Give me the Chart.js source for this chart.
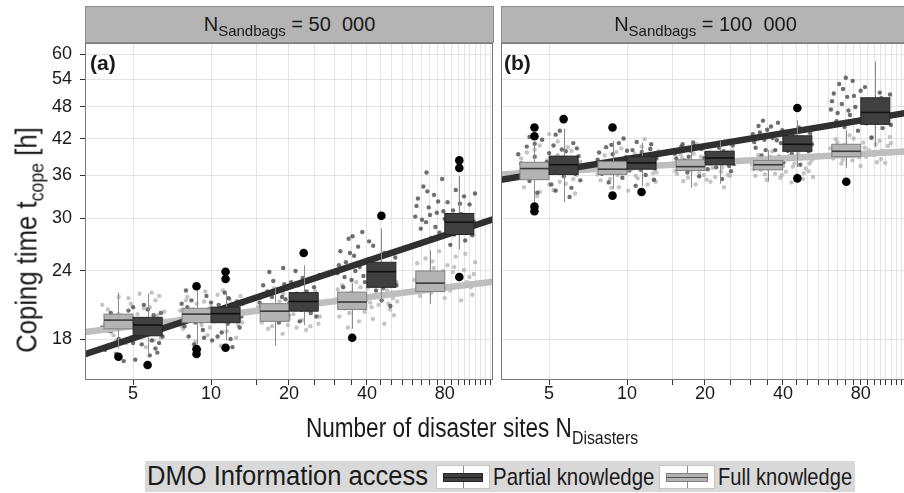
<!DOCTYPE html>
<html lang="en">
<head>
<meta charset="UTF-8">
<title>Coping time vs number of disaster sites</title>
<script src="https://cdn.jsdelivr.net/npm/chart.js"></script>
<style>
    body { margin: 0; width: 904px; height: 493px; overflow: hidden; background: #fff; position: relative;
           font-family: 'Liberation Sans', Arial, sans-serif; color: #1a1a1a; }
    .wrap { position: absolute; top: 0; }
    .strip { position: absolute; top: 6px; height: 37px; box-sizing: border-box; background: #b4b4b4;
             border: 1px solid #8c8c8c; text-align: center; font-size: 20px; line-height: 35px; white-space: nowrap; }
    .sub { font-size: 15px; position: relative; top: 5px; }
    .tag { position: absolute; top: 51px; font-size: 21px; font-weight: bold; line-height: 24px; }
    .title { position: absolute; white-space: nowrap; line-height: 32px; }
    .sub2 { position: relative; top: 7px; }
    .legend { position: absolute; left: 145px; top: 461px; width: 710px; height: 31px; background: #d9d9d9; }
    .ltxt { position: absolute; top: 0; line-height: 31px; white-space: nowrap; transform-origin: 0 50%; }
    .key { position: absolute; top: 4px; height: 24px; box-sizing: border-box; background: #fff; border: 1px solid #c4c4c4; }
    .kbar { position: absolute; left: 6px; right: 6px; top: 7px; height: 9px; box-sizing: border-box; }
    .kmed { position: absolute; left: 6px; right: 6px; top: 11px; height: 1px; }
    .kwh { position: absolute; top: 0; bottom: 0; left: 50%; width: 1px; background: #8c8c8c; }
</style>
</head>
<body>
    <div class="wrap" style="left:0;width:500px;height:420px"><canvas id="panelA" width="500" height="420"></canvas></div>
    <div class="wrap" style="left:495px;width:430px;height:420px"><canvas id="panelB" width="430" height="420"></canvas></div>

    <div class="strip" style="left:85px;width:409px">N<span class="sub">Sandbags</span> = 50&nbsp;&nbsp;000</div>
    <div class="strip" style="left:501px;width:409px">N<span class="sub">Sandbags</span> = 100&nbsp;&nbsp;000</div>
    <div class="tag" style="left:90px">(a)</div>
    <div class="tag" style="left:504px">(b)</div>

    <div class="title" id="ytitle" style="left:28px;top:240px;font-size:29px">Coping time t<span class="sub2" style="font-size:20px">cope</span> [h]</div>
    <div class="title" id="xtitle" style="left:472px;top:412px;font-size:27px">Number of disaster sites N<span class="sub2" style="font-size:19px">Disasters</span></div>

    <div class="legend">
        <div class="ltxt" id="lgTitle" style="left:2px;font-size:27px">DMO Information access</div>
        <div class="key" style="left:291px;width:54px">
            <div class="kwh"></div>
            <div class="kbar" style="background:#404040;border:1px solid #262626"></div>
            <div class="kmed" style="background:#1a1a1a"></div>
        </div>
        <div class="ltxt" id="lgPartial" style="left:348px;font-size:24px">Partial knowledge</div>
        <div class="key" style="left:514px;width:56px">
            <div class="kwh"></div>
            <div class="kbar" style="background:#b3b3b3;border:1px solid #808080"></div>
            <div class="kmed" style="background:#555"></div>
        </div>
        <div class="ltxt" id="lgFull" style="left:573px;font-size:24px">Full knowledge</div>
    </div>

<script>
    // axes
    const xCats = [5, 10, 20, 40, 80];
    const xGrid = [5, 10, 15, 20, 25, 30, 35, 40, 45, 50, 55, 60, 65, 70, 75, 80, 85, 90, 95, 100, 105, 110, 115, 120];
    const xLabeled = [5, 10, 20, 40, 80];
    const yTicks = [18, 24, 30, 36, 42, 48, 54, 60];
    const X_MIN = 3.26, X_MAX = 122.8;
    const Y_MIN = 15.14, Y_MAX = 62.9;

    // dodged box positions (full left, partial right)
    const xFull = [4.39, 8.79, 17.6, 35.1, 70.3];
    const xPartial = [5.69, 11.38, 22.8, 45.5, 91.0];

    // box stats: [lower whisker, q1, median, q3, upper whisker]
    const boxA_full = [[17.3, 18.8, 19.5, 20.0, 21.9], [17.6, 19.3, 20.0, 20.5, 22.1], [17.5, 19.4, 20.25, 20.9, 22.4], [18.8, 20.4, 21.05, 21.95, 22.8], [20.9, 22.0, 22.8, 24.0, 26.2]];
    const boxA_partial = [[16.97, 18.25, 19.1, 19.73, 21.8], [17.9, 19.29, 20.04, 20.6, 21.8], [19.1, 20.25, 21.1, 21.9, 24.6], [20.96, 22.4, 23.93, 24.9, 28.7], [26.3, 28.0, 29.5, 30.6, 35.9]];
    const boxB_full = [[32.1, 35.3, 37.0, 38.0, 41.0], [33.9, 36.1, 36.9, 38.1, 41.6], [34.1, 36.7, 37.3, 38.4, 41.6], [35.0, 36.8, 37.6, 38.3, 40.0], [37.1, 38.9, 39.8, 41.0, 43.5]];
    const boxB_partial = [[32.1, 36.1, 37.6, 39.0, 43.8], [34.4, 36.9, 37.9, 38.9, 41.3], [34.7, 37.6, 38.7, 39.8, 41.6], [37.2, 39.8, 41.0, 42.5, 45.4], [40.5, 44.6, 46.9, 49.9, 58.2]];

    // outliers [x, y]
    const outA = [[4.39, 16.7], [8.79, 22.5], [8.79, 17.25], [8.79, 16.9], [35.1, 18.1],
                  [5.69, 16.13], [11.38, 23.93], [11.38, 23.2], [11.38, 17.35], [22.8, 25.9], [45.5, 30.3], [91.0, 38.3], [91.0, 37.1], [91.0, 23.4]];
    const outB = [[4.39, 44.0], [4.39, 42.4], [4.39, 31.5], [4.39, 30.9], [8.79, 44.0], [8.79, 33.0], [70.3, 35.0],
                  [5.69, 45.6], [11.38, 33.5], [45.5, 47.8], [45.5, 35.5]];

    // linear fits (end points at the axis limits)
    const lineA_full = [[3.26, 18.54], [122.8, 22.94]];
    const lineA_partial = [[3.26, 16.89], [122.8, 29.86]];
    const lineB_full = [[3.26, 36.1], [122.8, 39.8]];
    const lineB_partial = [[3.26, 35.3], [122.8, 46.9]];

    // jittered runs [x, y]
    const ptsA_partial = [
        [3.9,17.2],[4.1,18.6],[4.3,16.9],[4.5,19.6],[4.6,17.8],[4.8,20.3],[4.9,18.1],[5.1,16.5],[5.2,19.1],[5.4,17.6],[5.5,20.8],[5.7,18.4],[5.8,16.8],[6.0,19.9],[6.1,17.3],[6.3,18.9],[6.4,20.1],[4.4,18.0],[5.0,20.6],[5.9,17.9],[4.2,19.3],[6.5,18.2],
        [3.8,18.9],[4.0,17.5],[4.7,19.0],[5.3,18.3],[5.6,19.4],[6.2,17.0],[6.6,19.2],[4.6,16.4],[5.0,17.7],[5.7,20.4],[4.1,20.1],[6.3,17.7],[4.9,19.8],[5.5,18.8],
        [7.7,20.9],[7.9,19.0],[8.2,18.2],[8.4,21.2],[8.6,17.6],[8.9,20.1],[9.1,19.4],[9.3,18.7],[9.6,21.6],[9.8,20.4],[10.1,17.9],[10.4,19.7],[10.7,20.8],[11.0,18.5],[11.3,21.9],[11.6,19.2],[11.9,18.0],[12.3,20.5],[12.6,21.1],[12.9,18.9],[13.1,19.8],[8.0,22.1],
        [7.6,19.6],[8.1,20.6],[8.7,19.3],[9.0,17.2],[9.5,20.0],[10.0,21.0],[10.6,18.2],[11.2,20.2],[11.7,21.4],[12.1,17.4],[12.8,19.5],[13.2,20.9],[9.4,18.1],[10.9,19.9],
        [15.4,21.0],[15.9,22.6],[16.3,20.2],[16.8,23.9],[17.2,21.5],[17.6,19.6],[18.1,22.2],[18.5,20.7],[19.0,24.3],[19.4,21.3],[19.9,19.9],[20.4,22.9],[20.9,20.5],[21.5,21.8],[22.0,19.4],[22.6,23.3],[23.1,20.9],[23.7,21.6],[24.3,20.1],[25.0,22.4],[25.7,21.2],[26.2,23.6],
        [15.6,20.6],[16.5,22.0],[17.4,23.0],[18.3,19.3],[19.2,22.7],[20.1,21.0],[21.2,24.0],[22.3,20.4],[23.4,22.0],[24.6,21.4],[25.5,19.8],[16.0,21.7],[18.8,21.5],[21.8,22.6],
        [30.8,23.8],[31.6,26.1],[32.4,22.4],[33.2,24.9],[34.0,27.5],[34.9,23.1],[35.7,25.6],[36.6,21.7],[37.5,24.4],[38.4,28.3],[39.3,22.9],[40.3,25.2],[41.3,23.6],[42.3,26.7],[43.4,22.1],[44.5,24.7],[45.6,21.2],[46.8,25.9],[48.0,23.3],[49.3,20.7],[50.6,24.1],[52.0,22.6],
        [31.2,24.6],[32.8,23.4],[34.4,25.9],[36.1,24.0],[37.0,26.6],[38.8,23.5],[40.8,27.2],[42.8,24.2],[44.0,23.0],[46.2,22.3],[47.4,24.5],[50.0,21.9],[51.5,25.4],[35.2,27.8],
        [61.5,30.2],[63.0,32.6],[64.6,28.7],[66.1,34.3],[67.7,29.5],[69.3,31.4],[71.0,27.6],[72.7,33.1],[74.5,30.7],[76.3,28.2],[78.1,35.4],[80.0,29.9],[82.0,32.1],[84.0,26.8],[86.1,31.0],[88.2,33.8],[90.4,28.9],[92.6,30.5],[94.9,32.9],[97.3,29.2],[99.7,31.8],[102.2,27.9],[104.6,33.3],
        [62.2,31.6],[65.3,29.8],[68.5,33.6],[70.1,30.4],[73.6,28.9],[75.4,32.2],[79.0,30.9],[83.0,29.4],[87.1,28.0],[91.5,31.9],[95.9,27.3],[100.6,30.2],[103.4,29.6],[68.0,36.4]
    ];
    const ptsA_full = [
        [3.9,19.2],[4.0,20.4],[4.2,18.3],[4.4,21.5],[4.5,19.8],[4.7,17.7],[4.9,20.9],[5.0,18.9],[5.3,21.8],[5.4,19.5],[5.6,17.4],[5.8,20.6],[5.9,18.6],[6.1,21.2],[6.2,19.9],[6.4,18.1],[6.6,20.2],[4.6,19.1],[5.2,20.0],[6.0,17.9],
        [3.8,20.8],[4.1,19.6],[4.3,17.9],[4.8,21.4],[5.1,19.3],[5.5,20.5],[5.7,18.3],[6.3,21.6],[6.5,19.5],[4.4,20.0],[5.9,21.9],[4.0,18.6],
        [7.6,20.3],[7.8,18.8],[8.1,21.5],[8.3,19.6],[8.7,17.8],[8.8,20.9],[9.2,19.1],[9.5,22.0],[9.7,18.3],[10.0,20.6],[10.3,19.4],[10.6,21.7],[10.9,17.5],[11.2,20.1],[11.5,18.6],[11.8,21.3],[12.2,19.9],[12.5,18.1],[12.8,20.7],[13.2,19.3],
        [7.7,19.0],[8.0,21.2],[8.5,20.4],[9.0,19.8],[9.4,21.1],[9.9,18.9],[10.5,20.2],[11.1,22.1],[11.6,19.6],[12.0,20.9],[12.7,19.1],[13.0,21.6],
        [15.2,20.6],[15.7,19.3],[16.1,21.6],[16.6,18.8],[17.0,20.1],[17.5,22.3],[17.9,19.6],[18.4,21.1],[18.9,18.4],[19.3,20.4],[19.8,19.1],[20.3,21.5],[20.8,20.0],[21.4,18.9],[21.9,20.7],[22.5,19.5],[23.0,21.9],[23.6,20.3],[24.2,19.0],[24.9,21.2],[25.6,20.5],[26.3,19.8],
        [15.5,21.4],[16.3,20.0],[17.2,19.0],[18.1,20.8],[19.0,21.8],[20.0,19.6],[21.1,20.4],[22.2,21.3],[23.3,18.7],[24.5,20.6],[25.3,22.0],[26.0,19.2],
        [30.5,21.3],[31.3,19.8],[32.1,22.6],[33.0,20.5],[33.8,18.9],[34.7,21.9],[35.5,20.9],[36.4,22.9],[37.3,19.4],[38.2,21.5],[39.2,20.2],[40.2,22.3],[41.2,21.0],[42.2,19.6],[43.3,22.7],[44.4,20.8],[45.5,21.8],[46.7,19.2],[47.9,22.1],[49.2,20.4],[50.5,21.4],[52.1,22.9],
        [30.9,22.2],[32.5,21.0],[34.2,20.1],[36.0,21.4],[37.8,22.4],[39.7,21.2],[41.7,20.6],[43.8,21.5],[46.0,22.5],[48.4,20.9],[50.9,19.9],[52.4,21.1],
        [61.0,23.1],[62.6,24.8],[64.2,21.6],[65.8,22.7],[67.4,25.3],[69.1,23.6],[70.8,21.9],[72.5,24.3],[74.3,22.4],[76.1,26.1],[78.0,23.0],[79.9,21.4],[81.9,24.6],[83.9,22.1],[86.0,23.9],[88.1,25.5],[90.3,22.6],[92.5,21.2],[94.8,24.1],[97.2,22.9],[99.6,23.4],[102.1,21.7],[104.8,24.9],
        [61.8,22.2],[65.0,23.8],[68.2,22.9],[71.6,25.0],[75.2,23.3],[78.9,24.0],[82.9,22.5],[87.0,24.4],[91.4,23.3],[96.0,25.8],[100.8,22.4],[103.5,23.7]
    ];
    const ptsB_partial = [
        [3.9,37.8],[4.1,40.6],[4.2,35.1],[4.4,38.9],[4.5,33.4],[4.7,41.8],[4.8,36.7],[5.0,39.5],[5.1,34.6],[5.3,42.7],[5.4,37.3],[5.6,40.1],[5.7,35.8],[5.9,38.4],[6.0,32.8],[6.2,41.2],[6.3,36.2],[6.5,39.0],[4.3,37.0],[5.5,43.4],[6.1,34.1],
        [3.8,39.3],[4.0,36.4],[4.4,41.1],[4.6,35.6],[4.9,38.0],[5.2,40.8],[5.5,36.3],[5.8,39.8],[6.1,37.5],[6.4,40.3],[6.6,35.2],[4.2,42.3],[5.3,33.7],
        [7.7,38.4],[8.0,36.2],[8.3,40.5],[8.5,34.9],[8.8,39.3],[9.0,37.1],[9.3,41.2],[9.6,35.6],[9.9,38.8],[10.2,36.7],[10.5,40.0],[10.8,34.4],[11.1,38.0],[11.4,39.7],[11.8,36.0],[12.1,37.6],[12.4,41.0],[12.7,35.3],[13.0,38.6],[8.6,37.9],
        [7.8,39.6],[8.2,37.3],[8.7,40.9],[9.1,38.2],[9.5,36.5],[10.0,39.9],[10.4,37.6],[10.9,41.4],[11.3,36.8],[11.9,38.9],[12.3,40.2],[12.8,37.0],[9.7,42.0],
        [15.3,39.4],[15.8,37.5],[16.2,40.6],[16.7,38.3],[17.1,36.4],[17.6,39.9],[18.0,41.3],[18.5,37.9],[19.0,35.8],[19.4,40.2],[19.9,38.7],[20.5,36.9],[21.0,41.0],[21.6,39.1],[22.1,37.2],[22.7,40.4],[23.3,35.4],[23.9,38.1],[24.5,39.6],[25.2,36.6],[25.9,37.7],
        [15.5,38.6],[16.4,41.0],[17.3,38.9],[18.2,40.7],[19.1,37.3],[20.2,39.5],[21.3,40.9],[22.4,38.4],[23.6,39.8],[24.8,37.4],[25.6,40.8],[17.8,36.9],[20.8,37.8],
        [30.6,42.8],[31.4,40.4],[32.2,44.3],[33.1,39.1],[33.9,41.8],[34.8,43.6],[35.6,38.5],[36.5,42.1],[37.4,40.0],[38.3,44.9],[39.3,41.2],[40.2,38.0],[41.2,42.6],[42.3,40.7],[43.3,39.4],[44.4,43.2],[45.5,41.5],[46.7,37.6],[47.9,40.3],[49.1,42.0],[50.4,39.8],[51.8,41.0],
        [31.0,41.4],[32.6,43.1],[34.3,40.0],[36.0,44.2],[37.9,41.7],[39.8,43.5],[41.8,39.9],[43.9,42.3],[46.1,44.0],[48.5,41.3],[51.0,43.0],[33.5,45.3],[38.7,38.9],
        [61.3,47.5],[62.9,50.8],[64.4,45.2],[66.0,52.9],[67.6,48.6],[69.2,44.1],[70.9,50.1],[72.6,46.4],[74.4,53.6],[76.2,48.0],[78.0,43.4],[79.9,51.4],[81.9,46.9],[83.9,44.8],[85.9,49.5],[88.0,42.2],[90.2,47.8],[92.4,45.6],[94.7,51.0],[97.1,43.9],[99.5,48.9],[102.0,46.1],[104.5,44.5],
        [61.9,49.2],[65.1,46.8],[68.3,51.8],[71.7,47.3],[75.3,50.3],[79.0,45.5],[83.0,52.2],[87.1,48.3],[91.5,44.9],[96.0,49.8],[100.7,47.1],[103.7,50.6],[70.0,54.3]
    ];
    const ptsB_full = [
        [3.8,36.5],[4.0,34.2],[4.1,39.6],[4.3,37.7],[4.5,32.9],[4.6,40.8],[4.8,35.6],[4.9,38.3],[5.1,36.9],[5.2,33.8],[5.4,41.5],[5.5,35.0],[5.7,38.8],[5.8,34.7],[6.0,37.4],[6.1,39.9],[6.3,33.3],[6.4,36.0],[6.6,38.1],[5.0,42.8],
        [3.9,38.6],[4.2,35.5],[4.4,40.1],[4.7,37.1],[5.0,34.6],[5.3,38.7],[5.6,36.4],[5.9,40.5],[6.2,35.4],[6.5,37.8],[4.6,33.5],[5.4,39.2],
        [7.6,37.3],[7.9,35.2],[8.2,39.1],[8.4,36.6],[8.7,34.1],[9.0,38.5],[9.2,36.0],[9.5,40.3],[9.8,37.8],[10.1,33.7],[10.4,36.9],[10.7,39.4],[11.0,35.5],[11.3,37.4],[11.7,41.9],[12.0,34.6],[12.3,38.2],[12.6,36.3],[12.9,35.0],[13.2,39.8],
        [7.7,36.1],[8.1,38.0],[8.6,35.4],[9.1,39.7],[9.6,36.7],[10.2,38.8],[10.8,35.9],[11.4,40.6],[12.0,37.1],[12.5,39.1],[13.0,36.4],[9.3,34.2],
        [15.2,37.9],[15.6,36.2],[16.1,39.3],[16.5,35.1],[17.0,38.2],[17.4,36.8],[17.9,40.1],[18.4,34.6],[18.8,37.4],[19.3,38.9],[19.8,36.0],[20.3,35.3],[20.8,39.6],[21.4,37.1],[21.9,35.7],[22.5,38.6],[23.1,36.5],[23.7,34.2],[24.3,37.8],[25.0,35.9],[25.8,38.4],
        [15.4,36.6],[16.3,38.7],[17.2,35.6],[18.1,39.4],[19.0,36.3],[20.0,37.9],[21.0,35.0],[22.1,39.0],[23.3,37.2],[24.5,36.0],[25.5,39.9],[18.6,41.0],
        [30.5,37.6],[31.3,35.9],[32.1,39.2],[32.9,36.8],[33.8,38.4],[34.6,35.3],[35.5,37.1],[36.4,39.8],[37.3,36.2],[38.2,38.0],[39.1,35.6],[40.1,37.4],[41.1,36.5],[42.1,39.0],[43.2,34.9],[44.3,37.8],[45.4,36.0],[46.6,38.7],[47.8,35.4],[49.0,37.0],[50.3,36.6],[51.7,38.3],
        [30.8,36.9],[32.4,38.6],[34.1,36.1],[35.9,38.9],[37.7,37.2],[39.6,36.0],[41.6,38.5],[43.7,37.3],[45.9,39.4],[48.2,36.3],[50.7,37.8],[52.3,35.7],
        [61.0,40.3],[62.6,38.6],[64.1,41.9],[65.7,39.4],[67.3,37.8],[69.0,40.9],[70.7,39.0],[72.4,42.6],[74.2,38.3],[76.0,40.6],[77.9,39.7],[79.8,37.4],[81.8,41.3],[83.8,38.9],[85.9,40.0],[88.0,42.1],[90.1,39.2],[92.3,38.0],[94.6,41.6],[97.0,39.9],[99.4,37.9],[101.9,40.7],[104.5,41.2],
        [61.7,39.1],[64.9,41.3],[68.1,38.4],[71.5,40.1],[75.1,42.0],[78.8,38.8],[82.8,40.4],[86.9,39.4],[91.3,41.0],[95.8,38.5],[100.5,39.5],[103.6,42.3]
    ];

    const FONT = 'Liberation Sans';
    const HALF_BOX = 14.5;
    Chart.defaults.font.family = FONT;

    const toXY = arr => arr.map(([x, y]) => ({ x, y }));

    // boxes go on top of the fit lines, below the outliers
    function boxLayer(sets) {
        return {
            id: 'boxLayer',
            afterDatasetDraw(chart, args) {
                if (args.index !== 1) return;
                const { ctx, chartArea: a, scales: { x, y } } = chart;
                ctx.save();
                ctx.beginPath();
                ctx.rect(a.left, a.top, a.right - a.left, a.bottom - a.top);
                ctx.clip();
                sets.forEach(s => {
                    s.stats.forEach((st, i) => {
                        const cx = x.getPixelForValue(s.xs[i]);
                        const [lo, q1, med, q3, hi] = st.map(v => y.getPixelForValue(v));
                        const wx = Math.round(cx) + 0.5;
                        ctx.lineWidth = 1;
                        ctx.strokeStyle = s.whisker;
                        ctx.beginPath();
                        ctx.moveTo(wx, hi); ctx.lineTo(wx, q3);
                        ctx.moveTo(wx, q1); ctx.lineTo(wx, lo);
                        ctx.stroke();
                        ctx.fillStyle = s.fill;
                        ctx.fillRect(cx - HALF_BOX, q3, HALF_BOX * 2, q1 - q3);
                        ctx.strokeStyle = s.edge;
                        ctx.strokeRect(cx - HALF_BOX, q3, HALF_BOX * 2, q1 - q3);
                        ctx.strokeStyle = s.median;
                        ctx.lineWidth = 1.6;
                        ctx.beginPath();
                        ctx.moveTo(cx - HALF_BOX, med); ctx.lineTo(cx + HALF_BOX, med);
                        ctx.stroke();
                    });
                });
                ctx.restore();
            }
        };
    }

    const frame = {
        id: 'frame',
        afterDatasetsDraw(chart) {
            const { ctx, chartArea: a } = chart;
            ctx.save();
            ctx.strokeStyle = '#7a7a7a';
            ctx.lineWidth = 1;
            ctx.strokeRect(Math.round(a.left) + 0.5, Math.round(a.top) + 0.5, Math.round(a.right - a.left) - 1, Math.round(a.bottom - a.top) - 1);
            ctx.restore();
        }
    };

    function makePanel(id, p) {
        return new Chart(document.getElementById(id), {
            type: 'scatter',
            data: {
                datasets: [
                    { label: 'outliers', data: toXY(p.outliers), pointRadius: 4.3, backgroundColor: '#000', borderWidth: 0, order: 0 },
                    { label: 'Partial knowledge fit', data: toXY(p.linePartial), showLine: true, borderColor: '#303030', borderWidth: 6.5, pointRadius: 0, order: 1 },
                    { label: 'Full knowledge fit', data: toXY(p.lineFull), showLine: true, borderColor: '#bebebe', borderWidth: 6.5, pointRadius: 0, order: 2 },
                    { label: 'Partial knowledge', data: toXY(p.ptsPartial), pointRadius: 2.2, backgroundColor: 'rgba(55,55,55,0.72)', borderWidth: 0, order: 3 },
                    { label: 'Full knowledge', data: toXY(p.ptsFull), pointRadius: 2.2, backgroundColor: 'rgba(175,175,175,0.72)', borderWidth: 0, order: 4 }
                ]
            },
            options: {
                responsive: false,
                animation: false,
                events: [],
                layout: { padding: p.padding },
                plugins: { legend: { display: false }, tooltip: { enabled: false } },
                scales: {
                    x: {
                        type: 'logarithmic', min: X_MIN, max: X_MAX, bounds: 'data',
                        afterBuildTicks: s => { s.ticks = xGrid.map(v => ({ value: v })); },
                        afterFit: s => { s.height = 40; },
                        ticks: { autoSkip: false, maxRotation: 0, padding: -2, color: '#1a1a1a', font: { size: 18 },
                                 callback: v => xLabeled.includes(v) ? String(v) : '' },
                        grid: { color: '#e3e3e3', tickColor: '#333', tickLength: 5 },
                        border: { display: false }
                    },
                    y: {
                        type: 'logarithmic', min: Y_MIN, max: Y_MAX, bounds: 'data',
                        afterBuildTicks: s => { s.ticks = yTicks.map(v => ({ value: v })); },
                        afterFit: s => { s.width = p.yWidth; },
                        ticks: { display: p.showY, autoSkip: false, padding: 8, color: '#1a1a1a', font: { size: 18 },
                                 callback: v => String(v) },
                        grid: { color: '#e3e3e3', tickColor: '#333', tickLength: 5, drawTicks: p.showY },
                        border: { display: false }
                    }
                }
            },
            plugins: [boxLayer([
                { xs: xFull, stats: p.boxFull, fill: '#b3b3b3', edge: '#808080', whisker: '#8c8c8c', median: '#3a3a3a' },
                { xs: xPartial, stats: p.boxPartial, fill: '#404040', edge: '#262626', whisker: '#8c8c8c', median: '#111111' }
            ]), frame]
        });
    }

    makePanel('panelA', {
        padding: { top: 43, right: 7, bottom: 0, left: 0 }, yWidth: 85, showY: true,
        outliers: outA, lineFull: lineA_full, linePartial: lineA_partial,
        ptsFull: ptsA_full, ptsPartial: ptsA_partial, boxFull: boxA_full, boxPartial: boxA_partial
    });
    makePanel('panelB', {
        padding: { top: 43, right: 16, bottom: 0, left: 0 }, yWidth: 6, showY: false,
        outliers: outB, lineFull: lineB_full, linePartial: lineB_partial,
        ptsFull: ptsB_full, ptsPartial: ptsB_partial, boxFull: boxB_full, boxPartial: boxB_partial
    });

    // squeeze texts to the widths seen in the figure
    function fitWidth(id, w, base) {
        const el = document.getElementById(id);
        el.style.transform = (base || '') + ' scaleX(' + (w / el.offsetWidth) + ')';
    }
    fitWidth('lgTitle', 281);
    fitWidth('lgPartial', 161);
    fitWidth('lgFull', 134);
    fitWidth('xtitle', 332, 'translateX(-50%)');
    fitWidth('ytitle', 226, 'translate(-50%,-50%) rotate(-90deg)');
</script>
</body>
</html>
